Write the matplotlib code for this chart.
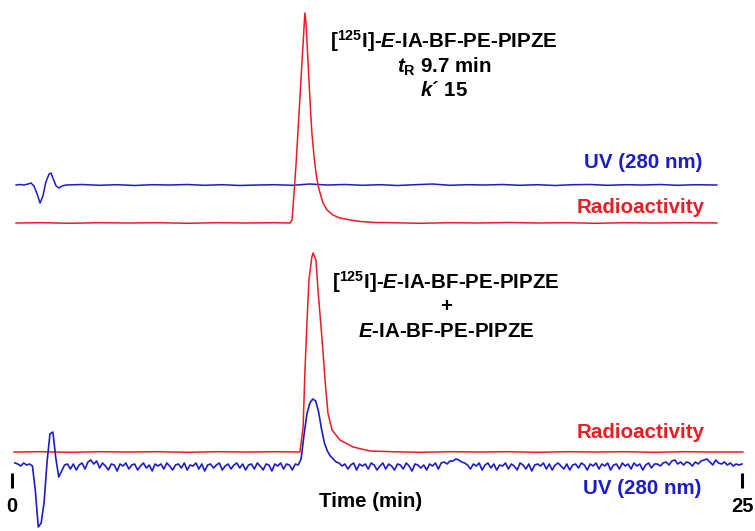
import numpy as np
import matplotlib
matplotlib.use("Agg")
import matplotlib.pyplot as plt

plt.rcParams["font.family"] = "Liberation Sans"
plt.rcParams["font.weight"] = "bold"
plt.rcParams["mathtext.fontset"] = "custom"
plt.rcParams["mathtext.rm"] = "Liberation Sans:bold"
plt.rcParams["mathtext.it"] = "Liberation Sans:italic:bold"
plt.rcParams["mathtext.bf"] = "Liberation Sans:bold"

RED = "#ec1c24"
BLUE = "#1c1cc8"

# --- [125I]-E-IA-BF-PE-PIPZE alone: UV trace (min, signal)
uv1_t = [0.14, 0.27, 0.41, 0.55, 0.65, 0.75, 0.86, 0.96, 1.06, 1.16, 1.27, 1.34,
         1.40, 1.51, 1.61, 1.71, 1.85, 2.4, 3.0, 3.6, 4.2, 4.8, 5.4, 6.0, 6.6,
         7.2, 7.8, 8.4, 9.0, 9.6, 10.2, 10.8, 11.4, 12.0, 12.6, 13.2, 13.8,
         14.4, 15.0, 15.6, 16.2, 16.8, 17.4, 18.0, 18.6, 19.2, 19.8, 20.4,
         21.0, 21.6, 22.2, 22.8, 23.4, 24.14]
uv1_v = [0, 0.5, 0, 1, 2, -1, -9, -18, -11, 3, 11, 12,
         7, -1, -3, -1, 0, 0.5, -0.3, 0.3, -0.5, 0.3, 0, 0.5, -0.3,
         0.3, -0.5, 0, 0.3, -0.3, 1, 0, 0.5, -0.3, 0.3, -0.5, 0.3,
         1, -0.3, 0.3, 0, 0.5, -0.3, 0.3, -0.5, 0.3, 0.5, -0.3,
         0.3, 0, 0.5, -0.3, 0.3, 0]

# radioactivity trace
rad1_t = [0.14, 1.0, 2.0, 3.0, 4.0, 5.0, 6.0, 7.0, 8.0, 9.0, 9.52, 9.59, 9.66,
          9.73, 9.79, 9.86, 9.93, 10.00, 10.03, 10.07, 10.14, 10.21, 10.27,
          10.34, 10.41, 10.48, 10.55, 10.65, 10.79, 10.99, 11.23, 11.58, 11.92,
          12.43, 13.0, 14.0, 15.0, 16.0, 17.0, 18.0, 19.0, 20.0, 21.0, 22.0,
          23.0, 24.14]
rad1_v = [0, 0.3, -0.3, 0.3, 0, 0.3, -0.3, 0.3, 0, 0.3, 0, 3, 30,
          60, 90, 125, 160, 195, 210, 200, 160, 120, 90,
          68, 50, 38, 30, 20, 13, 8, 5, 3, 1.5,
          0.5, 0.3, -0.3, 0.3, 0, 0.5, 0, 0.3, -0.3, 0.3, 0,
          0.3, 0]

# --- co-injection with cold E-IA-BF-PE-PIPZE: radioactivity trace
rad2_t = [0.07, 1.0, 2.0, 3.0, 4.0, 5.0, 6.0, 7.0, 8.0, 9.0, 9.86, 9.97, 10.03,
          10.10, 10.17, 10.27, 10.31, 10.41, 10.48, 10.62, 10.72, 10.82, 10.96,
          11.23, 11.68, 12.26, 13.0, 14.0, 15.0, 16.0, 17.0, 18.0, 19.0, 20.0,
          21.0, 22.0, 23.0, 24.0, 25.03]
rad2_v = [0, 0.3, -0.3, 0.3, 0, 0.3, -0.3, 0.3, 0, 0.3, 0, 25, 79,
          129, 172, 195, 199, 192, 162, 112, 72, 39, 22,
          12, 5, 1, 0.3, -0.3, 0.3, 0, 0.3, -0.3, 0.3, 0,
          0.3, -0.3, 0.3, 0, 0]

# UV trace, sampled every 0.1 min from 0.1 to 25.0
uv2_t = np.round(np.arange(1, 251) * 0.1, 1)
uv2_v = [
    4, 3, 1, 4, 2, 3, 1, -24, -60, -56,
    -35, 5, 33, 35, 9, -10, -4, 2, 3, -2,
    3, -3, 2, 4, -2, 5, 7, 3, 6, -1,
    4, 1, -3, 3, 2, -4, 3, 1, 4, -2,
    2, 3, -3, 1, 4, -1, 2, -4, 3, 1,
    3, -2, 4, 1, -3, 2, 3, -1, 4, -3,
    2, 1, 4, -2, 3, -4, 2, 3, -1, 2,
    4, -3, 1, 3, -2, 2, 4, -1, 3, -3,
    2, 3, -2, 4, 1, -3, 3, 2, -4, 3,
    1, 4, -2, 3, 2, -3, 3, 2, 8, 32,
    53, 64, 68, 66, 55, 38, 24, 16, 11, 8,
    5, 4, 1, 3, -2, 2, 4, -3, 3, 1,
    3, -2, 4, 2, -3, 1, 4, -2, 3, 1,
    -3, 3, 2, -2, 4, 1, -4, 3, 2, -1,
    2, -3, 3, 1, 4, -2, 4, 5, 3, 6,
    6, 8, 7, 5, 4, 2, -2, 3, 1, 4,
    -3, 2, 4, -1, 3, -3, 2, 1, 4, -2,
    3, 1, -3, 4, 2, -2, 3, -4, 2, 3,
    1, 4, -2, 3, -3, 2, 4, 1, -2, 3,
    -3, 2, 3, -1, 4, 2, -3, 3, 1, 4,
    -2, 3, 1, 4, -3, 2, 3, -2, 4, 1,
    3, -2, 4, 1, 3, -3, 2, 4, -1, 3,
    3, 1, 4, 5, 2, 6, 7, 3, 5, 2,
    5, 4, 1, 5, 3, 6, 7, 8, 5, 2,
    7, 4, 3, 5, 2, 4, 1, 3, 2, 3,
]

W, H = 755, 531
fig = plt.figure(figsize=(W / 100, H / 100), dpi=100)
ax = fig.add_axes([0, 0, 1, 1])
ax.set_xlim(-12 / 29.2, (W - 12) / 29.2)
ax.set_ylim(0, H)

# vertical stacking of the four traces
ax.plot(uv1_t, np.array(uv1_v) + 346, color=BLUE, lw=1.1)
ax.plot(rad1_t, np.array(rad1_v) + 308, color=RED, lw=1.1)
ax.plot(rad2_t, np.array(rad2_v) + 79, color=RED, lw=1.1)
ax.plot(uv2_t, np.array(uv2_v) + 64, color=BLUE, lw=1.2)

for s in ax.spines.values():
    s.set_visible(False)
ax.spines["bottom"].set_position(("data", 58))
ax.set_yticks([])
ax.set_xticks([0, 25])
ax.set_xticklabels(["0", "25"], fontsize=14.5, fontweight="bold")
ax.tick_params(axis="x", direction="out", length=11, width=2.2, pad=6)


def label(x, y, s, color="black", ha="center"):
    fig.text(x / W, 1 - y / H, s, color=color, ha=ha, va="baseline",
             fontsize=14.8, fontweight="bold")


label(444, 48, r"[$^{125}$I]-$\mathit{E}$-IA-BF-PE-PIPZE")
label(444, 73, r"$\mathit{t}_{\mathrm{R}}$ 9.7 min")
label(444, 96, r"$\mathit{k}$´ 15")
label(446, 289, r"[$^{125}$I]-$\mathit{E}$-IA-BF-PE-PIPZE")
label(446, 312, "+")
label(446, 337, r"$\mathit{E}$-IA-BF-PE-PIPZE")

label(702, 168, "UV (280 nm)", BLUE, "right")
label(705, 213, "Radioactivity", RED, "right")
label(705, 438, "Radioactivity", RED, "right")
label(701, 494, "UV (280 nm)", BLUE, "right")
label(371, 507, "Time (min)")

fig.savefig("out.png", dpi=100)
